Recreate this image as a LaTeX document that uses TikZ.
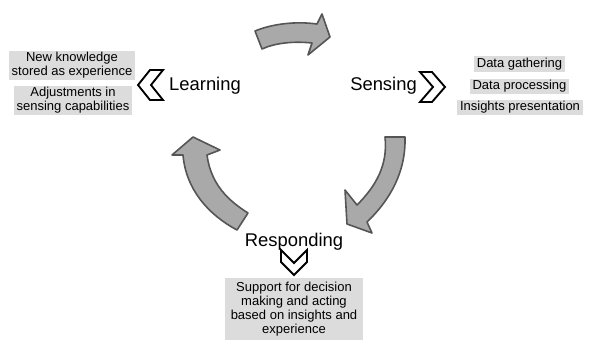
\documentclass[tikz,border=0pt]{standalone}
\usepackage{fontspec}
\setmainfont{Liberation Sans}
\usetikzlibrary{positioning}

\definecolor{notegray}{HTML}{DCDCDC}
\definecolor{arrowfill}{HTML}{A9A9A9}
\definecolor{arrowline}{HTML}{555555}

\tikzset{
  note/.style={fill=notegray, align=center, inner xsep=2.2pt, inner ysep=1.4pt,
    font=\fontsize{9.75}{10.5}\selectfont},
  phase/.style={font=\fontsize{13.8}{16}\selectfont, inner sep=0pt, anchor=base},
  cyclearrow/.style={fill=arrowfill, draw=arrowline, line width=1.2pt, line join=round},
  chevron/.style={draw=black, fill=white, line width=1.4pt, line join=miter}
}

\begin{document}
\begin{tikzpicture}[x=0.75pt, y=-0.75pt]
\useasboundingbox (0,0) rectangle (600,355);

% Phase labels
\node[phase] (learn) at (205,90) {Learning};
\node[phase] (sense) at (383.5,90) {Sensing};
\node[phase] (respond) at (294,246) {Responding};

% Cycle arrows
\draw[cyclearrow] (255,31) .. controls (272,24) and (295,21) .. (317,24)
  -- (322,14) -- (330,37) -- (308,55) -- (312,43)
  .. controls (293,41) and (275,43) .. (262,49) -- cycle;
\draw[cyclearrow] (385,137) -- (405,137) .. controls (406,172) and (390,200) .. (367,222)
  -- (372,233) -- (347,224) -- (345,190) -- (357,205)
  .. controls (376,186) and (388,165) .. (385,137) -- cycle;
\draw[cyclearrow] (248,213) .. controls (229,201) and (211,185) .. (207,155)
  -- (220,150) -- (193,137) -- (172,155) -- (183,155)
  .. controls (186,190) and (209,215) .. (237,230) -- cycle;

% Chevrons
\draw[chevron] (163,70) -- (150,70) -- (138,85) -- (150,100) -- (163,100) -- (151,85) -- cycle;
\draw[chevron] (420,72) -- (432,72) -- (445,87) -- (432,102) -- (420,102) -- (433,87) -- cycle;
\draw[chevron] (281,250) -- (281,262) -- (294,275) -- (307,262) -- (307,250) -- (294,263) -- cycle;

% Notes: learning
\node[note] (know) at (72,65.5) {New knowledge\\stored as experience};
\node[note] (adjust) at (73,100.5) {Adjustments in\\sensing capabilities};

% Notes: sensing
\node[note] (gather) at (519.5,64) {Data gathering};
\node[note] (process) at (519.5,86.5) {Data processing};
\node[note] (insight) at (520,107.5) {Insights presentation};

% Notes: responding
\node[note, minimum width=103.5pt, minimum height=46.5pt] (support) at (294,309)
  {Support for decision\\making and acting\\based on insights and\\experience};

\end{tikzpicture}
\end{document}
